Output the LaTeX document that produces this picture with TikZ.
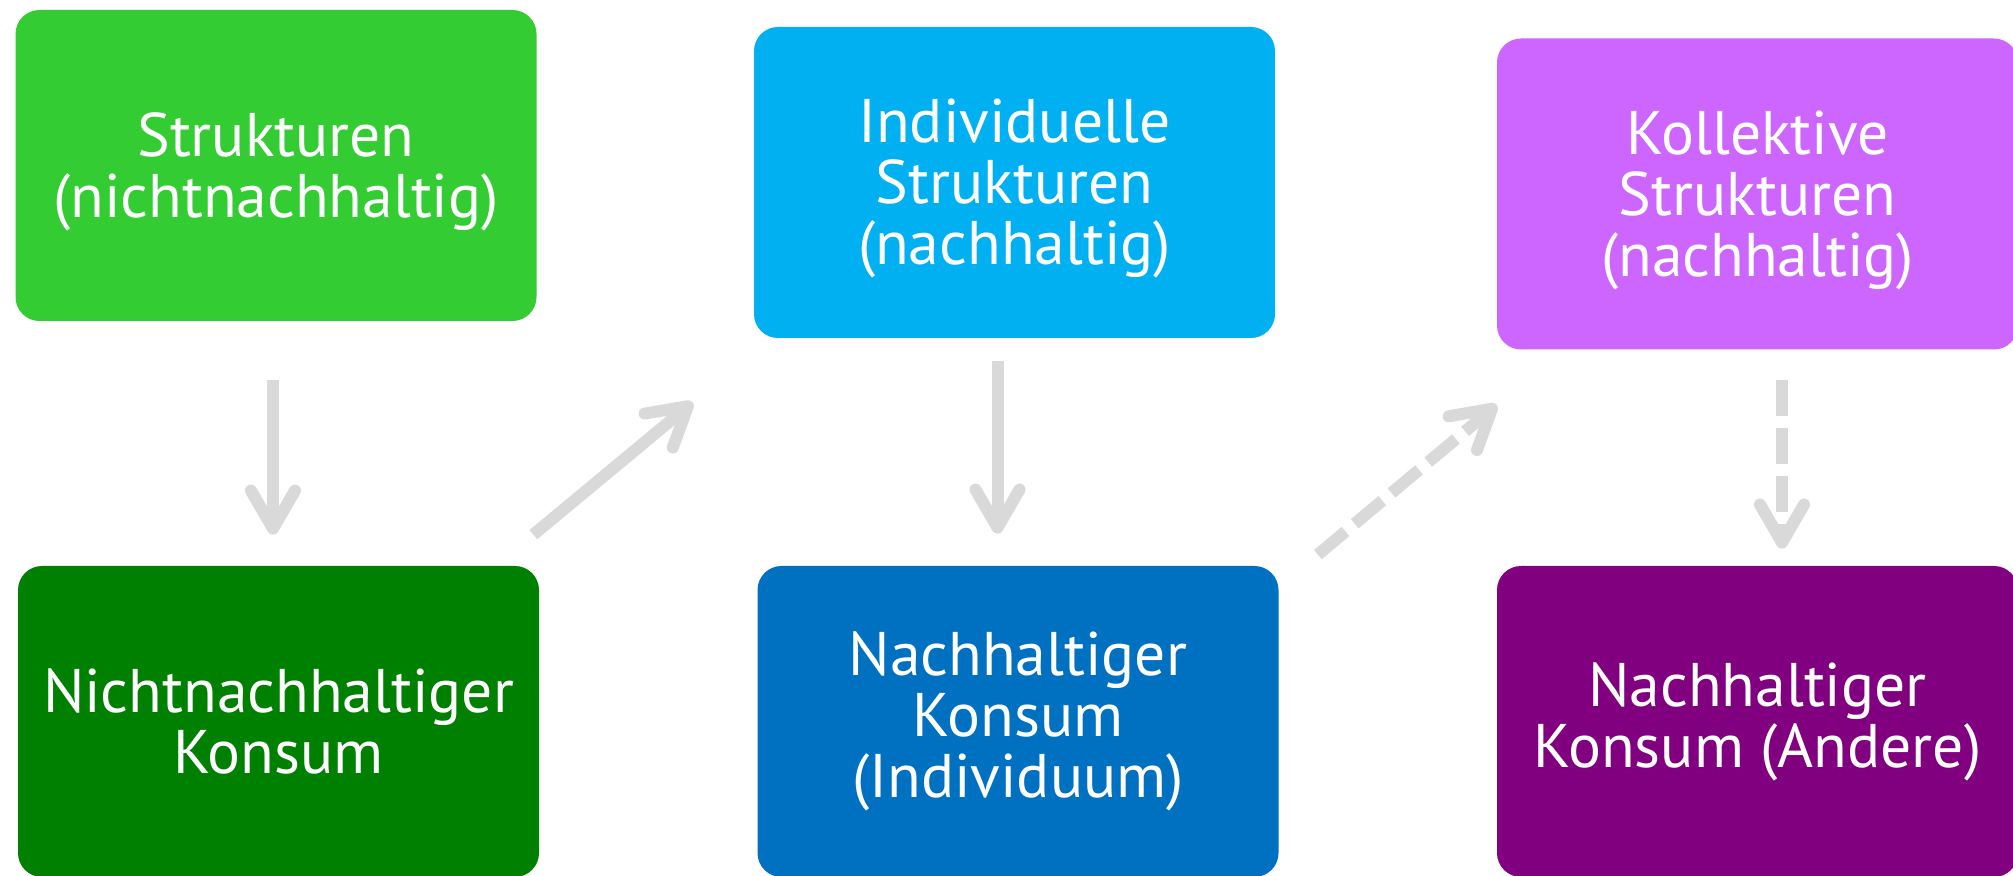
\documentclass[tikz,border=0pt]{standalone}
\usepackage{fontspec}
\setmainfont{PT Sans}
\usetikzlibrary{arrows.meta}
\definecolor{cGreen}{HTML}{33CC33}
\definecolor{cLightBlue}{HTML}{00B0F0}
\definecolor{cLightPurple}{HTML}{CC66FF}
\definecolor{cDarkGreen}{HTML}{008000}
\definecolor{cBlue}{HTML}{0070C0}
\definecolor{cDarkPurple}{HTML}{800080}
\definecolor{cArrow}{HTML}{D9D9D9}
\newcommand\firstline{\rule{0pt}{28pt}}
\tikzset{
  box/.style={rectangle, rounded corners=12pt, minimum width=260.5pt, minimum height=155.5pt,
    text=white, align=center, inner sep=0pt,
    font=\fontsize{30.8}{30.5}\selectfont},
  flow/.style={draw=cArrow, line width=6pt,
    -{Straight Barb[length=19pt,width=22pt,round]}},
  dflow/.style={flow, dash pattern=on 18pt off 6pt}
}
\begin{document}
\begin{tikzpicture}[x=0.5pt,y=-0.5pt]
\clip (0,0) rectangle (2013,876);
\fill[white] (0,0) rectangle (2013,876);
\node[box, fill=cGreen] (b1) at (276,165.5) {\firstline Strukturen\\(nichtnachhaltig)};
\node[box, fill=cLightBlue] (b2) at (1014.5,182.5) {\firstline Individuelle\\Strukturen\\(nachhaltig)};
\node[box, fill=cLightPurple] (b3) at (1757.5,194) {\firstline Kollektive\\Strukturen\\(nachhaltig)};
\node[box, fill=cDarkGreen] (b4) at (278.5,721.5) {Nichtnachhaltiger\\Konsum};
\node[box, fill=cBlue] (b5) at (1018,721.5) {Nachhaltiger\\Konsum\\(Individuum)};
\node[box, fill=cDarkPurple] (b6) at (1757.5,721.5) {Nachhaltiger\\Konsum (Andere)};
\draw[flow] ([shift={(-3,59)}]b1.south) -- ([shift={(-5.5,-31)}]b4.north);
\draw[flow] ([shift={(-6,-31)}]b4.north east) -- ([shift={(-61,64)}]b2.south west);
\draw[flow] ([shift={(-17,23)}]b2.south) -- ([shift={(-20.5,-32)}]b5.north);
\draw[dflow] ([shift={(39,-11)}]b5.north east) -- ([shift={(0,55)}]b3.south west);
\draw[dflow] ([shift={(24.5,30)}]b3.south) -- ([shift={(24.5,-17)}]b6.north);
\end{tikzpicture}
\end{document}
